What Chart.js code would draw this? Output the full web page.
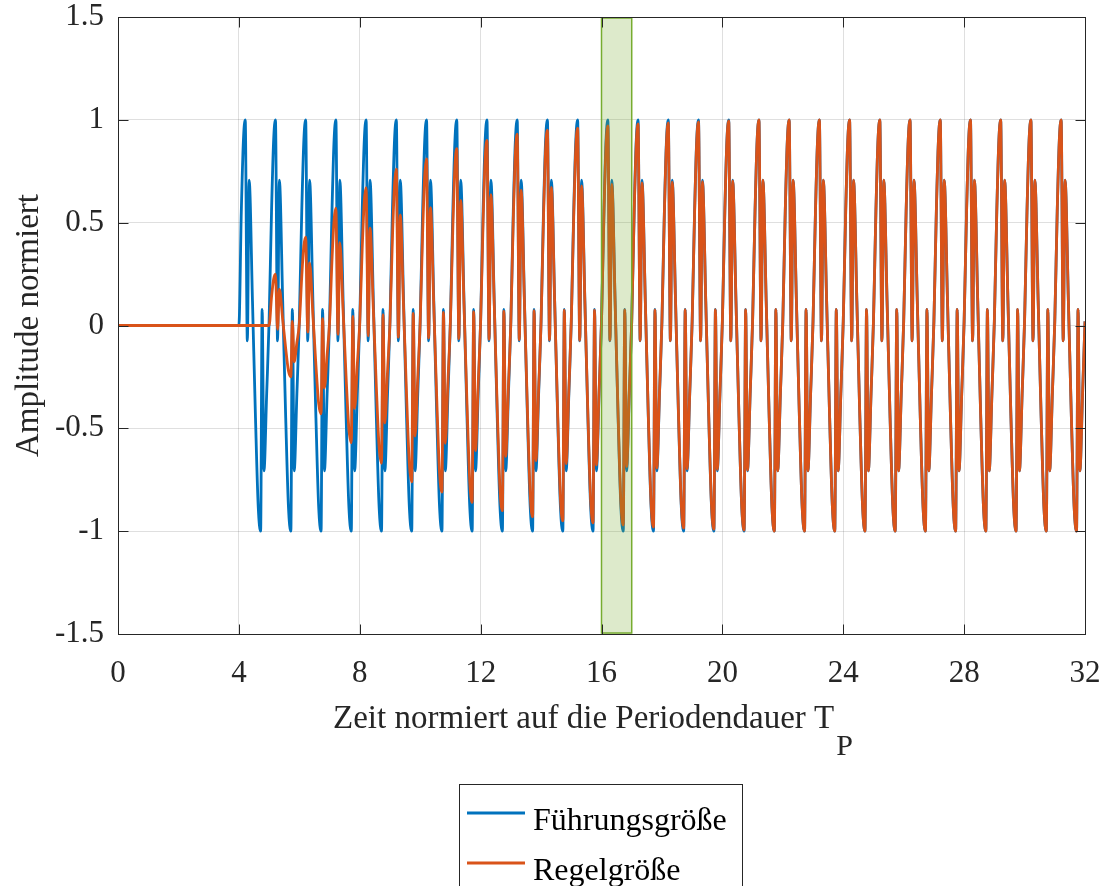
<!DOCTYPE html>
<html>
<head>
<meta charset="utf-8">
<script src="https://cdn.jsdelivr.net/npm/chart.js@4.4.0/dist/chart.umd.min.js"></script>
<style>
    html, body { margin: 0; padding: 0; background: #ffffff; }
    #wrap { width: 1105px; height: 886px; }
</style>
</head>
<body>
<div id="wrap"><canvas id="signalChart" width="1105" height="886"></canvas></div>
<script>
const xTicks = [0, 4, 8, 12, 16, 20, 24, 28, 32]
const yTicks = [-1.5, -1, -0.5, 0, 0.5, 1, 1.5]
const timeEnd = 32

// shape of one period (offset in periods -> amplitude)
const cycleOffsets = [0.0, 0.08, 0.15, 0.21, 0.28, 0.34, 0.45, 0.55, 0.64, 0.72, 0.77, 0.83, 0.92]
const cycleShape = [0.02, 0.55, 0.9, 1.0, -0.075, 0.707, 0.12, -0.45, -0.88, -1.0, 0.078, -0.707, -0.33]

const referenceStart = 4
const referenceAmplitude = [1, 1, 1, 1, 1, 1, 1, 1, 1, 1, 1, 1, 1, 1, 1, 1, 1, 1, 1, 1, 1, 1, 1, 1, 1, 1, 1, 1]

const outputStart = 5
const outputAmplitude = [0.25, 0.43, 0.57, 0.67, 0.76, 0.81, 0.86, 0.9, 0.93, 0.95, 0.96, 0.97, 0.98, 0.985, 0.99, 0.995, 1, 1, 1, 1, 1, 1, 1, 1, 1, 1, 1]

const highlightWindow = [16, 17]
const seriesNames = ["Führungsgröße", "Regelgröße"]
const seriesColors = ["#0072bd", "#d95319"]

const axisColor = "#262626"
const fontFamily = "'Liberation Serif', 'Times New Roman', serif"

function buildSeries(startTime, amplitudes) {
    const points = [{ x: 0, y: 0 }, { x: startTime, y: 0 }]

    amplitudes.forEach((amp, cycle) => {
        cycleOffsets.forEach((offset, i) => {
            if (cycle === 0 && i === 0) return
            const t = startTime + cycle + offset
            if (t >= timeEnd) return
            points.push({ x: t, y: amp * cycleShape[i] })
        })
    })

    points.push({ x: timeEnd, y: amplitudes[amplitudes.length - 1] * cycleShape[0] })
    return points
}

function noLabelPadding(scale) {
    scale.paddingTop = 0
    scale.paddingBottom = 0
    scale.paddingLeft = 0
    scale.paddingRight = 0
}

const framePlugin = {
    id: "frame",
    afterDatasetsDraw(chart) {
        const { ctx, chartArea, scales } = chart
        const xs = scales.x
        const ys = scales.y

        ctx.save()

        // highlighted period
        const hx0 = xs.getPixelForValue(highlightWindow[0])
        const hx1 = xs.getPixelForValue(highlightWindow[1])
        const hy0 = ys.getPixelForValue(1.5)
        const hy1 = ys.getPixelForValue(-1.5)
        ctx.fillStyle = "rgba(119, 172, 48, 0.25)"
        ctx.fillRect(hx0, hy0, hx1 - hx0, hy1 - hy0)
        ctx.strokeStyle = "#77ac30"
        ctx.lineWidth = 1.5
        ctx.strokeRect(hx0, hy0 + 1, hx1 - hx0, hy1 - hy0 - 2)

        // axes box with inward ticks
        const left = Math.round(chartArea.left) + 0.5
        const right = Math.round(chartArea.right) + 0.5
        const top = Math.round(chartArea.top) + 0.5
        const bottom = Math.round(chartArea.bottom) + 0.5
        ctx.strokeStyle = axisColor
        ctx.lineWidth = 1
        ctx.strokeRect(left, top, right - left, bottom - top)

        const tickLen = 10
        ctx.beginPath()
        xTicks.forEach((v) => {
            const px = Math.round(xs.getPixelForValue(v)) + 0.5
            ctx.moveTo(px, bottom)
            ctx.lineTo(px, bottom - tickLen)
            ctx.moveTo(px, top)
            ctx.lineTo(px, top + tickLen)
        })
        yTicks.forEach((v) => {
            const py = Math.round(ys.getPixelForValue(v)) + 0.5
            ctx.moveTo(left, py)
            ctx.lineTo(left + tickLen, py)
            ctx.moveTo(right, py)
            ctx.lineTo(right - tickLen, py)
        })
        ctx.stroke()

        // axis titles
        ctx.fillStyle = axisColor
        ctx.textBaseline = "alphabetic"
        ctx.textAlign = "left"
        const mainTitle = "Zeit normiert auf die Periodendauer T"
        ctx.font = "33px " + fontFamily
        const mainWidth = ctx.measureText(mainTitle).width
        ctx.font = "30px " + fontFamily
        const subWidth = ctx.measureText("P").width
        const titleStart = 593 - (mainWidth + subWidth + 2) / 2
        ctx.font = "33px " + fontFamily
        ctx.fillText(mainTitle, titleStart, 728)
        ctx.font = "30px " + fontFamily
        ctx.fillText("P", titleStart + mainWidth + 2, 755)

        ctx.save()
        ctx.translate(38, (chartArea.top + chartArea.bottom) / 2)
        ctx.rotate(-Math.PI / 2)
        ctx.textAlign = "center"
        ctx.font = "33px " + fontFamily
        ctx.fillText("Amplitude normiert", 0, 0)
        ctx.restore()

        // legend
        ctx.fillStyle = "#ffffff"
        ctx.fillRect(459.5, 784.5, 283, 140)
        ctx.strokeStyle = axisColor
        ctx.lineWidth = 1
        ctx.strokeRect(459.5, 784.5, 283, 140)
        seriesNames.forEach((name, i) => {
            const ly = 813 + i * 50
            ctx.strokeStyle = seriesColors[i]
            ctx.lineWidth = 3
            ctx.beginPath()
            ctx.moveTo(467, ly)
            ctx.lineTo(525, ly)
            ctx.stroke()
            ctx.fillStyle = "#000000"
            ctx.font = "32px " + fontFamily
            ctx.fillText(name, 533, ly + 17)
        })

        ctx.restore()
    }
}

const chartCtx = document.getElementById("signalChart")

const signalChart = new Chart(chartCtx, {
    type: "line",
    data: {
        datasets: [
            {
                label: seriesNames[0],
                data: buildSeries(referenceStart, referenceAmplitude),
                borderColor: seriesColors[0],
                borderWidth: 2.8,
                pointRadius: 0,
                cubicInterpolationMode: "monotone",
                fill: false,
                order: 2
            },
            {
                label: seriesNames[1],
                data: buildSeries(outputStart, outputAmplitude),
                borderColor: seriesColors[1],
                borderWidth: 2.8,
                pointRadius: 0,
                cubicInterpolationMode: "monotone",
                fill: false,
                order: 1
            }
        ]
    },
    options: {
        responsive: false,
        animation: false,
        events: [],
        layout: {
            padding: { top: 17, right: 20, left: 0, bottom: 0 }
        },
        plugins: {
            legend: { display: false },
            tooltip: { enabled: false }
        },
        scales: {
            x: {
                type: "linear",
                min: 0,
                max: 32,
                afterBuildTicks: (scale) => {
                    scale.ticks = xTicks.map((v) => ({ value: v }))
                },
                afterFit: (scale) => {
                    scale.height = 886 - 634
                    noLabelPadding(scale)
                },
                grid: {
                    color: "rgba(38, 38, 38, 0.15)",
                    drawTicks: false
                },
                border: { display: false },
                ticks: {
                    padding: 24,
                    color: axisColor,
                    maxRotation: 0,
                    font: { family: fontFamily, size: 31, lineHeight: 1 },
                    callback: (value) => String(value)
                }
            },
            y: {
                type: "linear",
                min: -1.5,
                max: 1.5,
                afterBuildTicks: (scale) => {
                    scale.ticks = yTicks.map((v) => ({ value: v }))
                },
                afterFit: (scale) => {
                    scale.width = 118
                    noLabelPadding(scale)
                },
                grid: {
                    color: "rgba(38, 38, 38, 0.15)",
                    drawTicks: false
                },
                border: { display: false },
                ticks: {
                    padding: 14,
                    color: axisColor,
                    font: { family: fontFamily, size: 31, lineHeight: 1 },
                    callback: (value) => String(value)
                }
            }
        }
    },
    plugins: [framePlugin]
})
</script>
</body>
</html>
